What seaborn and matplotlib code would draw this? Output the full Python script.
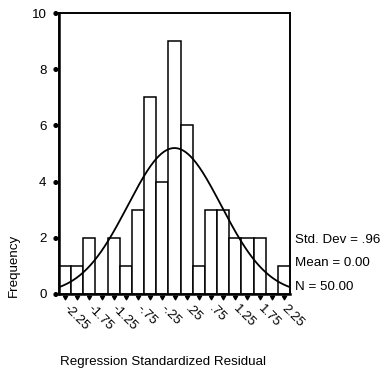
import numpy as np
import pandas as pd
import matplotlib
matplotlib.use("Agg")
import matplotlib.pyplot as plt
import seaborn as sns

# Histogram of regression standardized residuals (bin width .25)
bin_centers = [-2.25, -2.0, -1.75, -1.5, -1.25, -1.0, -0.75, -0.5, -0.25, 0.0,
               0.25, 0.5, 0.75, 1.0, 1.25, 1.5, 1.75, 2.0, 2.25]
frequencies = [1, 1, 2, 0, 2, 1, 3, 7, 4, 9, 6, 1, 3, 3, 2, 2, 2, 0, 1]
tick_labels = ["-2.25", "", "-1.75", "", "-1.25", "", "-.75", "", "-.25", "",
               ".25", "", ".75", "", "1.25", "", "1.75", "", "2.25"]
y_ticks = [0, 2, 4, 6, 8, 10]

std_dev = 0.96
mean = 0.00
n_obs = 50
bin_width = 0.25

sns.set_style("white")
plt.rcParams["font.family"] = ["Liberation Sans", "DejaVu Sans"]
for key in ["text.color", "xtick.color", "ytick.color", "axes.labelcolor",
            "axes.edgecolor"]:
    plt.rcParams[key] = "black"

FS = 9.6

fig = plt.figure(figsize=(3.81, 3.74), dpi=100)
ax = fig.add_axes([59 / 381, 1 - 294 / 374, 231 / 381, 281 / 374])

df = pd.DataFrame({"residual": bin_centers, "count": frequencies})
lo = bin_centers[0] - bin_width / 2
hi = bin_centers[-1] + bin_width / 2
sns.histplot(data=df, x="residual", weights="count", binwidth=bin_width,
             binrange=(lo, hi), color="white", edgecolor="black",
             linewidth=1.1, alpha=1, ax=ax)

# Fitted normal curve scaled to counts
xs = np.linspace(lo, hi, 200)
ys = n_obs * bin_width * np.exp(-0.5 * ((xs - mean) / std_dev) ** 2) / (std_dev * np.sqrt(2 * np.pi))
sns.lineplot(x=xs, y=ys, color="black", linewidth=1.3, ax=ax)

ax.set_xlim(lo, hi)
ax.set_ylim(0, 10)
ax.set_xlabel("")
ax.set_ylabel("")

ax.set_xticks(bin_centers)
ax.set_xticklabels(tick_labels, rotation=-45, ha="left", va="center",
                   rotation_mode="anchor", fontsize=FS)
ax.set_yticks(y_ticks)
ax.set_yticklabels([str(v) for v in y_ticks], fontsize=FS)

ax.tick_params(axis="x", bottom=True, length=3, width=1, pad=6)
ax.tick_params(axis="y", left=True, length=3, width=1, pad=6)

# Small triangle hanging just below the x axis, dot just left of the y axis
tri = [(-1.5, -1.2), (1.5, -1.2), (0, -3.8), (-1.5, -1.2)]
t = np.linspace(0, 2 * np.pi, 24)
dot = list(zip(-2.6 + 1.3 * np.cos(t), 1.3 * np.sin(t)))
for line in ax.xaxis.get_ticklines():
    line.set_marker(tri)
    line.set_markersize(7.6)
    line.set_markerfacecolor("black")
    line.set_markeredgecolor("black")
for line in ax.yaxis.get_ticklines():
    line.set_marker(dot)
    line.set_markersize(7.8)
    line.set_markerfacecolor("black")
    line.set_markeredgecolor("black")

# Plot frame: heavy left/bottom axes, thin top/right border
ax.patch.set_edgecolor("black")
ax.patch.set_linewidth(1.2)
for side in ["left", "bottom"]:
    ax.spines[side].set_linewidth(1.8)
for side in ["top", "right"]:
    ax.spines[side].set_linewidth(1.2)
for sp in ax.spines.values():
    sp.set_edgecolor("black")
    sp.set_visible(True)
    sp.set_zorder(5)

fig.text(295 / 381, 1 - 240 / 374, f"Std. Dev = {std_dev:.2f}".replace("0.", "."),
         fontsize=FS, va="center", ha="left")
fig.text(295 / 381, 1 - 263 / 374, f"Mean = {mean:.2f}", fontsize=FS,
         va="center", ha="left")
fig.text(295 / 381, 1 - 287 / 374, f"N = {n_obs:.2f}", fontsize=FS,
         va="center", ha="left")

fig.text(14 / 381, 1 - 265 / 374, "Frequency", rotation=90, fontsize=FS,
         va="center", ha="center")
fig.text(60 / 381, 1 - 362 / 374, "Regression Standardized Residual",
         fontsize=FS, va="center", ha="left")

fig.savefig("out.png", dpi=100)
